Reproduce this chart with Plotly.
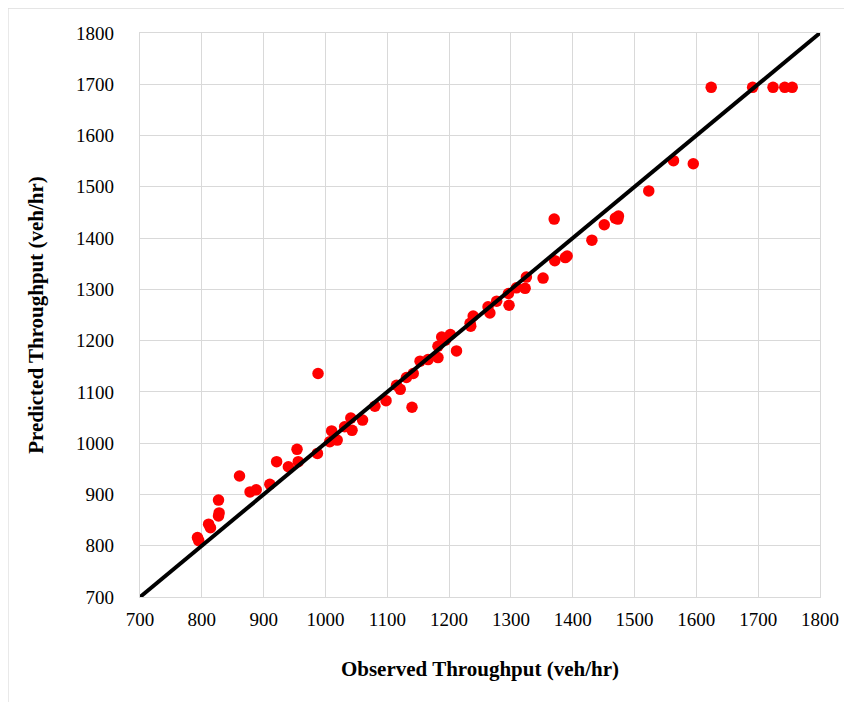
import plotly.graph_objects as go

observed = [793, 795, 811, 814, 827, 828, 827, 861, 878, 888, 910, 921, 940, 956, 954,
            987, 988, 1010, 1007, 1019, 1031, 1041, 1043, 1060, 1080, 1098, 1140, 1115,
            1121, 1131, 1142, 1153, 1166, 1182, 1182, 1188, 1194, 1202, 1212, 1234, 1235,
            1239, 1263, 1266, 1277, 1296, 1297, 1309, 1323, 1325, 1352, 1370, 1371, 1388,
            1391, 1431, 1451, 1469, 1473, 1474, 1523, 1563, 1595, 1624, 1691, 1724, 1743,
            1755]
predicted = [816, 810, 842, 835, 889, 864, 858, 936, 905, 909, 920, 964, 954, 964, 988,
             980, 1136, 1024, 1003, 1006, 1032, 1049, 1025, 1045, 1072, 1083, 1070, 1113,
             1105, 1128, 1136, 1160, 1163, 1167, 1189, 1207, 1201, 1212, 1180, 1234, 1228,
             1248, 1266, 1254, 1277, 1292, 1269, 1303, 1302, 1324, 1322, 1437, 1356, 1362,
             1365, 1396, 1426, 1439, 1437, 1443, 1492, 1551, 1545, 1694, 1694, 1694, 1694,
             1694]
line_x = [700, 1800]
line_y = [700, 1800]
ticks = list(range(700, 1801, 100))

FONT = "Liberation Serif"

fig = go.Figure()
fig.add_trace(go.Scatter(x=observed, y=predicted, mode="markers",
                         marker=dict(color="#ff0000", size=11.5),
                         cliponaxis=False, showlegend=False))
fig.add_trace(go.Scatter(x=line_x, y=line_y, mode="lines",
                         line=dict(color="black", width=4), showlegend=False))

axis_common = dict(
    tickvals=ticks, ticktext=[str(t) for t in ticks],
    showgrid=True, gridcolor="#d9d9d9", gridwidth=1.3,
    showline=True, linecolor="#d9d9d9", linewidth=1.3, mirror=True,
    zeroline=False, ticks="", tickfont=dict(family=FONT, size=19, color="black"),
)
fig.update_xaxes(range=[700, 1800], ticklabelstandoff=5,
                 title=dict(text="<b>Observed Throughput (veh/hr)</b>",
                            font=dict(family=FONT, size=21, color="black"), standoff=32),
                 **axis_common)
fig.update_yaxes(range=[700, 1800], ticklabelstandoff=21,
                 title=dict(text="<b>Predicted Throughput (veh/hr)</b>",
                            font=dict(family=FONT, size=21, color="black"), standoff=26),
                 **axis_common)

fig.add_shape(type="rect", xref="paper", yref="paper",
              x0=-0.194, x1=1.2, y0=-0.3, y1=1.044,
              line=dict(color="#d9d9d9", width=1), fillcolor="rgba(0,0,0,0)", layer="below")

fig.update_layout(width=852, height=702,
                  margin=dict(l=132, r=40, t=25, b=113),
                  plot_bgcolor="white", paper_bgcolor="white",
                  font=dict(family=FONT, color="black"))

fig.write_html("out.html")
